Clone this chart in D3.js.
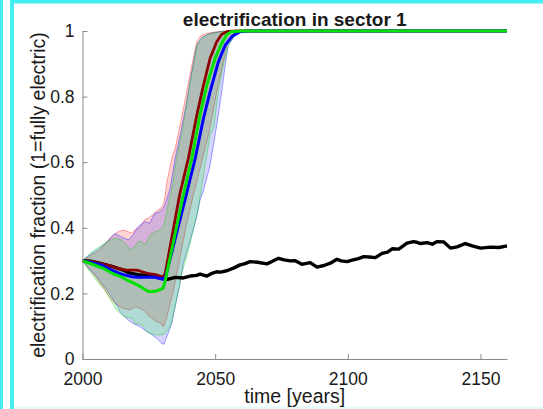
<!DOCTYPE html>
<html>
<head>
<meta charset="utf-8">
<script src="https://cdn.jsdelivr.net/npm/d3@7"></script>
<style>
  html, body { margin: 0; padding: 0; background: #ffffff; }
  svg { display: block; }
  text { font-family: "Liberation Sans", Arial, Helvetica, sans-serif; fill: #1a1a1a; }
</style>
</head>
<body>
<svg id="chart" width="543" height="409"></svg>
<script>
// ---- data: [year, electrification fraction] ----
const xTickValues = [2000, 2050, 2100, 2150];
const xTickLabels = ["2000", "2050", "2100", "2150"];
const yTickValues = [0, 0.2, 0.4, 0.6, 0.8, 1];
const yTickLabels = ["0", "0.2", "0.4", "0.6", "0.8", "1"];

// baseline run (black)
const baseline = [
  [2000,.300],[2003,.298],[2006,.293],[2009,.287],[2012,.280],[2015,.272],[2018,.262],
  [2021,.257],[2024,.255],[2027,.253],[2030,.249],[2032,.243],[2035,.249],[2038,.247],
  [2040.6,.253],[2043,.255],[2044.3,.259],[2046.9,.253],[2048.5,.260],[2050.6,.266],
  [2052,.265],[2054.4,.269],[2056.9,.277],[2059.4,.287],[2061,.290],[2063.2,.297],
  [2066,.295],[2069.5,.290],[2071,.296],[2073.9,.307],[2076,.302],[2078.3,.299],
  [2080,.300],[2082.7,.289],[2084,.291],[2085.8,.294],[2088.4,.280],[2091,.285],
  [2093.4,.292],[2095.9,.304],[2097.5,.299],[2099.7,.297],[2102,.302],[2104,.306],
  [2106,.312],[2108,.311],[2110.4,.309],[2112.9,.322],[2115,.326],[2116.7,.336],
  [2119.2,.335],[2122.3,.353],[2124.8,.358],[2126,.356],[2127.4,.352],[2129.9,.355],
  [2131.8,.350],[2133.7,.358],[2136.2,.357],[2138.7,.338],[2141.2,.342],[2144.3,.352],
  [2146.9,.345],[2150,.338],[2153.8,.341],[2157,.340],[2160,.345]
];

// policy scenarios: mean runs
const redMean = [
  [2000,.300],[2005,.295],[2010,.285],[2013,.277],[2016.5,.271],[2020.5,.271],[2022.5,.266],
  [2025,.260],[2027.5,.257],[2030.5,.250],[2031.2,.262],[2036.6,.500],[2039.9,.612],
  [2043.1,.744],[2045.6,.835],[2048.1,.917],[2050.6,.967],[2052.5,.990],[2054.4,.998],
  [2058,1],[2160,1]
];
const blueMean = [
  [2000,.300],[2004,.293],[2007,.287],[2011,.271],[2014.6,.259],[2018.4,.251],[2021,.249],
  [2023.5,.249],[2027.2,.249],[2030.4,.243],[2031.3,.250],[2039.1,.500],[2042.5,.612],
  [2045.6,.734],[2048.1,.815],[2051.2,.906],[2053.8,.957],[2056.3,.983],[2059.4,.998],
  [2062,1],[2160,1]
];
const greenMean = [
  [2000,.300],[2005,.285],[2008,.276],[2011,.262],[2014.7,.250],[2017,.240],[2019.2,.232],
  [2022.2,.219],[2024.8,.206],[2027,.206],[2028.5,.209],[2030.4,.216],[2031.2,.240],
  [2038,.500],[2041.2,.612],[2044.3,.744],[2046.9,.835],[2050,.917],[2052.5,.963],
  [2054.5,.990],[2056.3,.998],[2060,1],[2160,1]
];

// policy scenarios: min/max envelopes over runs
const redUpper = [
  [2000,.300],[2003,.315],[2005.8,.327],[2008,.345],[2010.5,.370],[2013.4,.388],[2015.5,.393],
  [2018.5,.384],[2020,.395],[2021.5,.400],[2023.5,.425],[2025,.430],[2026.5,.440],[2028,.452],
  [2029.2,.457],[2030.5,.470],[2031.2,.500],[2031.8,.540],[2033.7,.612],[2034.9,.642],
  [2036.8,.713],[2039.3,.815],[2041.2,.896],[2043.1,.967],[2044.5,.985],[2046.5,.992],
  [2050,.997],[2054,1],[2065,1]
];
const redLower = [
  [2000,.300],[2003,.270],[2005.8,.241],[2008,.215],[2010.5,.185],[2012.5,.168],[2015,.155],
  [2018,.150],[2020,.159],[2022.8,.150],[2025.3,.129],[2027.8,.114],[2029.5,.109],
  [2030.5,.098],[2031.5,.120],[2034.3,.210],[2036.8,.312],[2039.3,.414],[2041.8,.500],
  [2044.3,.581],[2047.5,.683],[2049.4,.764],[2050.6,.815],[2052.5,.886],[2054.4,.957],
  [2056.3,.988],[2058.5,1],[2065,1]
];
const blueUpper = [
  [2000,.300],[2003,.320],[2006,.335],[2009,.355],[2012.2,.383],[2014.6,.373],[2017.2,.363],
  [2019,.378],[2020.9,.403],[2023.5,.419],[2025.3,.414],[2027.2,.444],[2029.1,.449],
  [2030.5,.460],[2031.5,.480],[2033,.520],[2034.9,.612],[2036.8,.683],[2039.3,.784],
  [2041.2,.876],[2043.1,.957],[2045,.980],[2048,.992],[2052,.998],[2056,1],[2065,1]
];
const blueLower = [
  [2000,.300],[2002.5,.275],[2005.4,.251],[2007.5,.228],[2009.7,.205],[2012,.175],
  [2014.2,.144],[2016,.128],[2017.9,.114],[2019.8,.105],[2021.7,.098],[2023.5,.088],
  [2025.5,.078],[2028,.063],[2029.9,.047],[2030.7,.045],[2031.8,.068],[2033.7,.109],
  [2034.9,.159],[2036.8,.231],[2038,.292],[2040.6,.363],[2043.1,.434],[2044.3,.485],
  [2045.5,.510],[2048.1,.591],[2050.6,.713],[2052.5,.815],[2053.8,.896],[2055,.957],
  [2057.5,.988],[2060,1],[2065,1]
];
const greenUpper = [
  [2000,.300],[2002,.315],[2004.1,.330],[2006,.340],[2008.4,.353],[2010.5,.362],[2012.3,.368],
  [2014.6,.363],[2016.7,.348],[2017.9,.332],[2019.7,.342],[2021.1,.358],[2022.2,.358],
  [2023.6,.348],[2025.5,.378],[2027.2,.388],[2028.6,.390],[2030.5,.403],[2031.5,.440],
  [2032.5,.480],[2033.7,.520],[2035.5,.612],[2038,.713],[2039.9,.815],[2041.8,.896],
  [2043.1,.957],[2045,.980],[2048,.992],[2052,.998],[2056,1],[2065,1]
];
const greenLower = [
  [2000,.300],[2002,.275],[2004.3,.251],[2007.2,.220],[2008.5,.210],[2010.4,.183],
  [2012.3,.155],[2014,.140],[2015.9,.129],[2018.6,.125],[2019.7,.109],[2022.3,.105],
  [2024.7,.080],[2025.5,.078],[2027,.075],[2028.5,.073],[2030,.074],[2031.1,.078],
  [2033,.098],[2034.3,.139],[2036.2,.210],[2037.4,.261],[2039.3,.312],[2041.8,.393],
  [2043.7,.464],[2044.6,.510],[2048.1,.683],[2049.4,.703],[2051.2,.815],[2053.1,.896],
  [2055,.957],[2057.8,.990],[2060,1],[2065,1]
];

// ---- layout ----
const svg = d3.select("#chart");
const x = d3.scaleLinear().domain([2000, 2160]).range([82.5, 507]);
const y = d3.scaleLinear().domain([0, 1]).range([359, 31]);

// frame decoration
const frameColor = "#47eef1";
svg.append("rect").attr("x", 0).attr("y", 0).attr("width", 3).attr("height", 409).attr("fill", frameColor);
svg.append("rect").attr("x", 10).attr("y", 0).attr("width", 4).attr("height", 409).attr("fill", frameColor);
svg.append("rect").attr("x", 10).attr("y", 0).attr("width", 533).attr("height", 3.5).attr("fill", frameColor);
svg.append("rect").attr("x", 14).attr("y", 406.5).attr("width", 529).attr("height", 2.5).attr("fill", "#e3fbfb");

const line = d3.line().x(d => x(d[0])).y(d => y(d[1]));

// shaded envelopes
const bands = [
  { upper: redUpper,   lower: redLower,   color: "#ff0000" },
  { upper: blueUpper,  lower: blueLower,  color: "#0000ff" },
  { upper: greenUpper, lower: greenLower, color: "#00c800" }
];
const bandG = svg.append("g");
bands.forEach(b => {
  const poly = b.upper.concat(b.lower.slice().reverse());
  bandG.append("path")
    .attr("d", line(poly) + "Z")
    .attr("fill", b.color === "#00c800" ? "#00ff00" : b.color)
    .attr("fill-opacity", 0.17)
    .attr("stroke", "none");
  [b.upper, b.lower].forEach(edge => {
    bandG.append("path")
      .attr("d", line(edge))
      .attr("fill", "none")
      .attr("stroke", b.color)
      .attr("stroke-opacity", 0.45)
      .attr("stroke-width", 0.8);
  });
});

// mean runs
const series = [
  { data: baseline,  color: "#000000", width: 3.4 },
  { data: redMean,   color: "#8c0000", width: 2.8 },
  { data: blueMean,  color: "#0000ff", width: 3 },
  { data: greenMean, color: "#00e000", width: 3 }
];
const lineG = svg.append("g");
series.forEach(s => {
  lineG.append("path")
    .attr("d", line(s.data))
    .attr("fill", "none")
    .attr("stroke", s.color)
    .attr("stroke-width", s.width)
    .attr("stroke-linejoin", "round")
    .attr("stroke-linecap", "butt");
});

// axes
const axisColor = "#8a8a8a";
const xAxis = d3.axisBottom(x)
  .tickValues(xTickValues)
  .tickFormat((d, i) => xTickLabels[i])
  .tickSizeInner(-5).tickSizeOuter(0).tickPadding(13.5);
const yAxis = d3.axisLeft(y)
  .tickValues(yTickValues)
  .tickFormat((d, i) => yTickLabels[i])
  .tickSizeInner(-5).tickSizeOuter(0).tickPadding(8);

const gx = svg.append("g").attr("transform", `translate(0,${y(0)})`).call(xAxis);
const gy = svg.append("g").attr("transform", `translate(${x(2000)},0)`).call(yAxis);
[gx, gy].forEach(g => {
  g.select(".domain").attr("stroke", axisColor).attr("stroke-width", 1);
  g.selectAll(".tick line").attr("stroke", axisColor);
  g.selectAll(".tick text")
    .attr("fill", "#1a1a1a")
    .style("font-family", '"Liberation Sans", Arial, Helvetica, sans-serif')
    .style("font-size", "17.5px");
});

// titles
const midX = (x.range()[0] + x.range()[1]) / 2;
svg.append("text")
  .attr("x", midX).attr("y", 26)
  .attr("text-anchor", "middle")
  .style("font-size", "19px").style("font-weight", "bold")
  .text("electrification in sector 1");
svg.append("text")
  .attr("x", midX).attr("y", 403)
  .attr("text-anchor", "middle")
  .style("font-size", "19.5px")
  .text("time [years]");
svg.append("text")
  .attr("transform", `translate(45,${(y(0) + y(1)) / 2}) rotate(-90)`)
  .attr("text-anchor", "middle")
  .style("font-size", "19.5px")
  .text("electrification fraction (1=fully electric)");
</script>
</body>
</html>
